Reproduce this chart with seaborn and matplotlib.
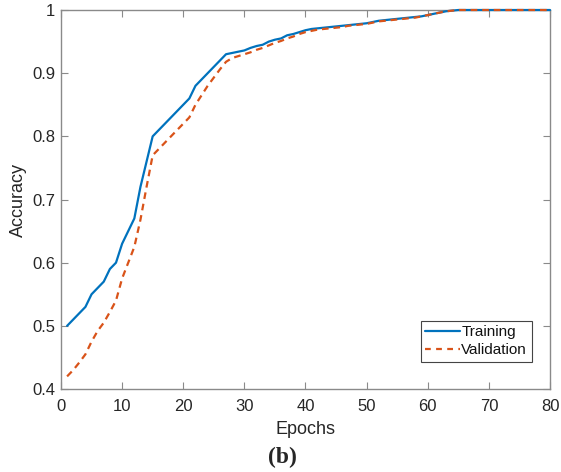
import matplotlib
matplotlib.use("Agg")
import matplotlib.pyplot as plt
import seaborn as sns
import pandas as pd
import numpy as np
from matplotlib.lines import Line2D

epochs = list(range(1, 81))
training = [0.500, 0.510, 0.520, 0.530, 0.550, 0.560, 0.570, 0.590, 0.600, 0.630,
            0.650, 0.670, 0.720, 0.760, 0.800, 0.810, 0.820, 0.830, 0.840, 0.850,
            0.860, 0.880, 0.890, 0.900, 0.910, 0.920, 0.930, 0.932, 0.934, 0.936,
            0.940, 0.943, 0.945, 0.950, 0.953, 0.955, 0.960, 0.962, 0.965, 0.968,
            0.970, 0.971, 0.972, 0.973, 0.974, 0.975, 0.976, 0.977, 0.978, 0.979,
            0.981, 0.983, 0.984, 0.985, 0.986, 0.987, 0.988, 0.989, 0.990, 0.992,
            0.994, 0.996, 0.998, 0.999, 1.0, 1.0, 1.0, 1.0, 1.0, 1.0,
            1.0, 1.0, 1.0, 1.0, 1.0, 1.0, 1.0, 1.0, 1.0, 1.0]
validation = [0.420, 0.430, 0.442, 0.455, 0.475, 0.492, 0.505, 0.522, 0.540, 0.575,
              0.600, 0.625, 0.668, 0.720, 0.770, 0.780, 0.790, 0.800, 0.810, 0.820,
              0.830, 0.850, 0.865, 0.880, 0.893, 0.906, 0.918, 0.924, 0.927, 0.930,
              0.933, 0.937, 0.940, 0.944, 0.948, 0.951, 0.955, 0.958, 0.962, 0.965,
              0.967, 0.969, 0.970, 0.971, 0.972, 0.973, 0.975, 0.976, 0.977, 0.978,
              0.980, 0.982, 0.983, 0.984, 0.985, 0.986, 0.987, 0.988, 0.990, 0.992,
              0.994, 0.996, 0.998, 0.999, 1.0, 1.0, 1.0, 1.0, 1.0, 1.0,
              1.0, 1.0, 1.0, 1.0, 1.0, 1.0, 1.0, 1.0, 1.0, 1.0]
series_names = ["Training", "Validation"]
x_ticks = [0, 10, 20, 30, 40, 50, 60, 70, 80]
y_ticks = [0.4, 0.5, 0.6, 0.7, 0.8, 0.9, 1.0]
y_ticklabels = ["0.4", "0.5", "0.6", "0.7", "0.8", "0.9", "1"]

df = pd.DataFrame({
    "Epochs": epochs * 2,
    "Accuracy": training + validation,
    "Series": [series_names[0]] * len(epochs) + [series_names[1]] * len(epochs),
})

sns.set_theme(style="white")
plt.rcParams["font.family"] = ["Liberation Sans", "DejaVu Sans"]

fig = plt.figure(figsize=(5.61, 4.72), dpi=100)
ax = fig.add_axes([0.1087, 0.1758, 0.8717, 0.803])

palette = {"Training": "#0072BD", "Validation": "#D95319"}
sns.lineplot(data=df, x="Epochs", y="Accuracy", hue="Series", style="Series",
             palette=palette, dashes={"Training": "", "Validation": (3, 2.2)},
             linewidth=1.6, ax=ax, legend=False)
for ln in ax.lines:
    ln.set_clip_on(False)
    ln.set_zorder(3)

ax.set_xlim(0, 80)
ax.set_ylim(0.4, 1.0)
ax.set_xticks(x_ticks)
ax.set_yticks(y_ticks)
ax.set_yticklabels(y_ticklabels)
axis_gray = "#8a8a8a"
text_col = "#262626"
for s in ax.spines.values():
    s.set_visible(True)
    s.set_color(axis_gray)
    s.set_linewidth(1.0)
ax.tick_params(direction="in", length=5, width=0.8, color=axis_gray,
               labelsize=12, labelcolor=text_col, top=True, right=True,
               bottom=True, left=True)
ax.tick_params(axis="x", pad=7)
ax.tick_params(axis="y", pad=4)
ax.set_xlabel("Epochs", fontsize=13, color=text_col, labelpad=5)
ax.set_ylabel("Accuracy", fontsize=13, color=text_col, labelpad=4)

handles = [Line2D([], [], color=palette["Training"], lw=1.6),
           Line2D([], [], color=palette["Validation"], lw=1.6, ls=(0, (2.6, 2.4)))]
leg = ax.legend(handles, series_names, loc="lower right",
                bbox_to_anchor=(0.9626, 0.072), fontsize=11,
                frameon=True, fancybox=False, framealpha=1,
                edgecolor="#444444", handlelength=2.25, handletextpad=0.12,
                borderpad=0.3, labelspacing=0.25, borderaxespad=0)
leg.get_frame().set_linewidth(0.8)
for t in leg.get_texts():
    t.set_color("#111111")

fig.text(0.503, 1 - 457 / 472, "(b)", fontsize=17, fontweight="bold",
         family=["Liberation Serif", "DejaVu Serif"], ha="center", va="center")

fig.savefig("out.png", dpi=100)
